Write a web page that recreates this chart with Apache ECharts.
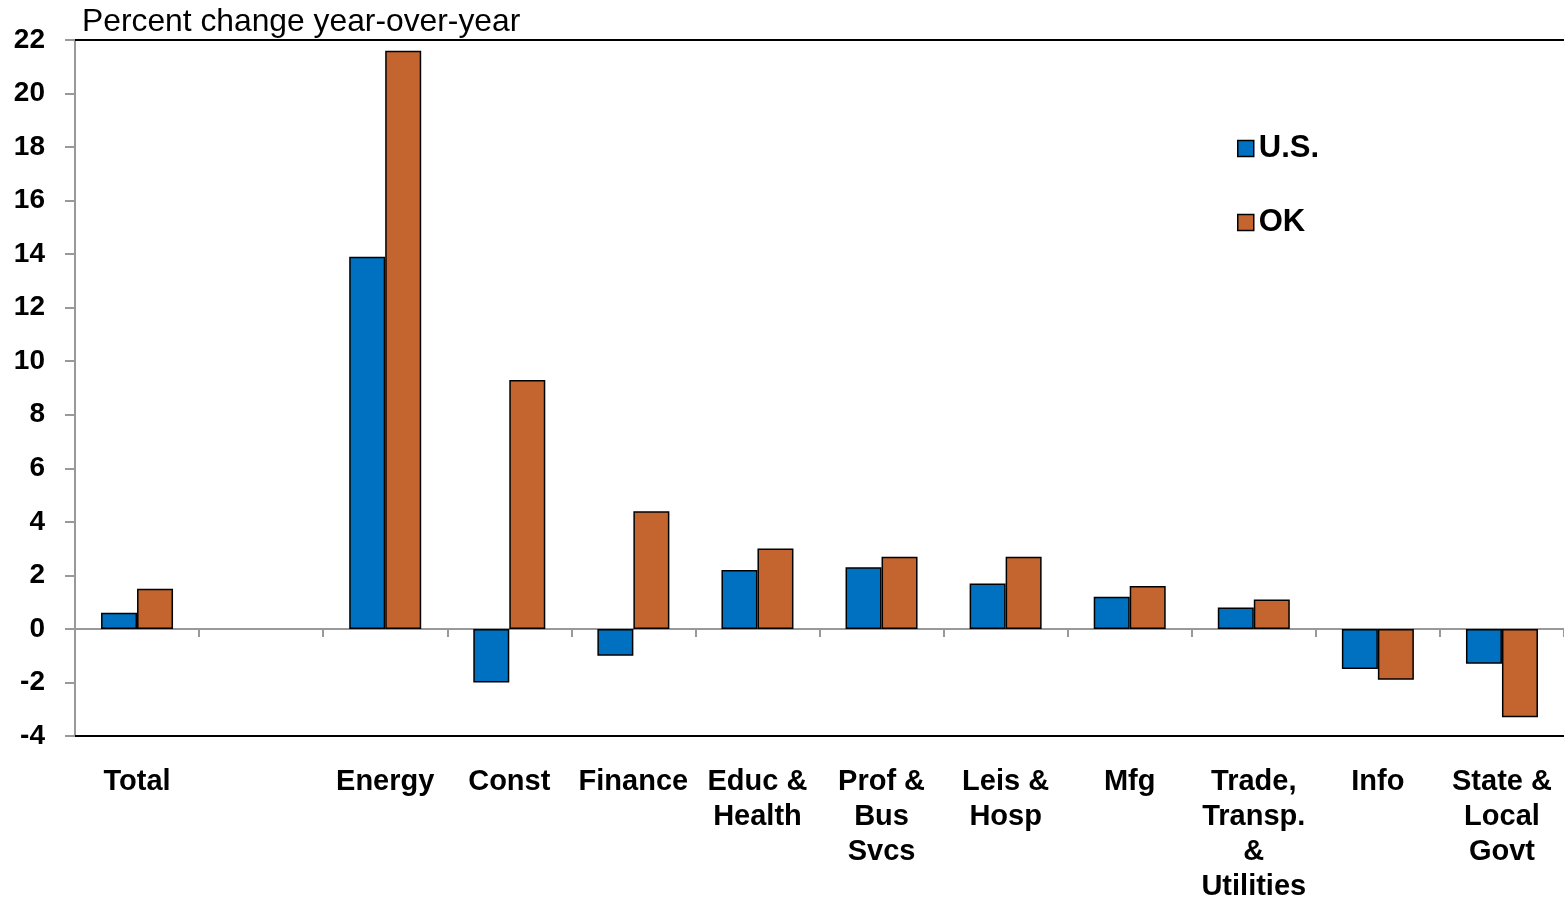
<!DOCTYPE html>
<html>
<head>
<meta charset="utf-8">
<script src="https://cdn.jsdelivr.net/npm/echarts@6/dist/echarts.min.js"></script>
<style>
  html, body { margin: 0; padding: 0; background: #fff; }
  #chart { width: 1564px; height: 904px; }
</style>
</head>
<body>
<div id="chart"></div>
<script>
// categories (second slot is left empty in the original chart)
var categories = ['Total', '', 'Energy', 'Const', 'Finance', 'Educ &\nHealth', 'Prof &\nBus\nSvcs',
  'Leis &\nHosp', 'Mfg', 'Trade,\nTransp.\n&\nUtilities', 'Info', 'State &\nLocal\nGovt']
var usValues = [0.6, null, 13.9, -2.0, -1.0, 2.2, 2.3, 1.7, 1.2, 0.8, -1.5, -1.3]
var okValues = [1.5, null, 21.6, 9.3, 4.4, 3.0, 2.7, 2.7, 1.6, 1.1, -1.9, -3.3]
var yTicks = { min: -4, max: 22, step: 2 }

var font = "'Liberation Sans', Arial, sans-serif"
var myChart = echarts.init(document.getElementById('chart'))

var barStyle = function (color) {
  return { color: color, borderColor: '#000', borderWidth: 1.5 }
}

var option = {
  animation: false,
  title: {
    text: 'Percent change year-over-year',
    left: 82,
    top: 6,
    padding: 0,
    textStyle: { fontFamily: font, fontSize: 31.8, fontWeight: 'normal', color: '#000', lineHeight: 32 }
  },
  legend: {
    orient: 'vertical',
    left: 1232,
    top: 128,
    itemWidth: 16,
    itemHeight: 16,
    itemGap: 43,
    icon: 'rect',
    itemStyle: { borderColor: '#000', borderWidth: 1.5 },
    textStyle: { fontFamily: font, fontSize: 31, fontWeight: 'bold', color: '#000', lineHeight: 30 },
    data: ['U.S.', 'OK']
  },
  // plot runs slightly past the right edge, as in the original
  grid: { left: 75, top: 40, width: 1494, height: 701, containLabel: false },
  xAxis: [
    {
      type: 'category',
      data: categories,
      position: 'bottom',
      axisLine: { onZero: false, lineStyle: { color: '#000', width: 2 } },
      axisTick: { show: false },
      axisLabel: {
        interval: 0,
        margin: 28,
        fontFamily: font, fontSize: 29, fontWeight: 'bold', color: '#000', lineHeight: 35
      }
    },
    {
      type: 'category',
      data: categories,
      position: 'top',
      axisLine: { onZero: false, lineStyle: { color: '#000', width: 2 } },
      axisTick: { show: false },
      axisLabel: { show: false }
    },
    {
      type: 'category',
      data: categories,
      position: 'bottom',
      axisLine: { onZero: true, lineStyle: { color: '#999', width: 2 } },
      axisTick: { show: true, interval: 0, inside: false, length: 8, lineStyle: { color: '#999', width: 2 } },
      axisLabel: { show: false }
    }
  ],
  yAxis: {
    type: 'value',
    min: yTicks.min,
    max: yTicks.max,
    interval: yTicks.step,
    axisLine: { show: true, lineStyle: { color: '#999', width: 2 } },
    axisTick: { show: true, length: 10, lineStyle: { color: '#999', width: 2 } },
    splitLine: { show: false },
    axisLabel: {
      margin: 30,
      fontFamily: font, fontSize: 28, fontWeight: 'bold', color: '#000'
    }
  },
  series: [
    {
      name: 'U.S.',
      type: 'bar',
      xAxisIndex: 0,
      data: usValues,
      barWidth: 36,
      barGap: '0%',
      itemStyle: barStyle('#0070C0'),
      z: 3
    },
    {
      name: 'OK',
      type: 'bar',
      xAxisIndex: 0,
      data: okValues,
      barWidth: 36,
      barGap: '0%',
      itemStyle: barStyle('#C4652F'),
      z: 3
    }
  ]
}

myChart.setOption(option, true)
</script>
</body>
</html>
